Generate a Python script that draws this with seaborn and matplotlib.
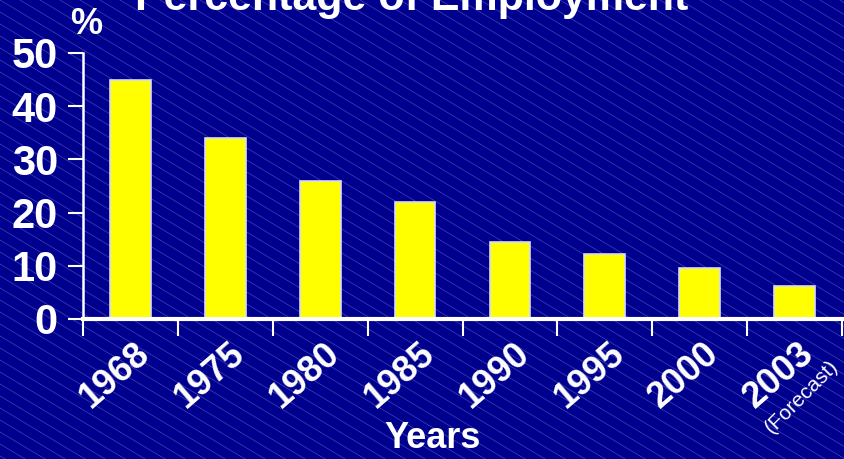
import numpy as np
import pandas as pd
import matplotlib
matplotlib.use("Agg")
import matplotlib.pyplot as plt
import matplotlib.transforms as mtransforms
import seaborn as sns

# Share of employment by year
years = ["1968", "1975", "1980", "1985", "1990", "1995", "2000", "2003"]
share = [45, 34, 26, 22, 14.5, 12.2, 9.6, 6.2]

sns.set_theme(style="white")
plt.rcParams["font.family"] = ["Liberation Sans", "DejaVu Sans"]

BG = "#00008e"
FG = "white"
BAR = "#ffff00"

W, H = 844, 459
fig = plt.figure(figsize=(W / 100, H / 100), dpi=100, facecolor=BG)

# diagonal pinstripe backdrop
bg = fig.add_axes([0, 0, 1, 1], zorder=-5)
bg.set_xlim(0, W)
bg.set_ylim(H, 0)
bg.axis("off")
slope = 0.6
for x0 in np.arange(-900, W + 20, 20):
    bg.plot([x0, x0 + 1200], [0, 1200 * slope], color="#6060cc", lw=0.5, alpha=0.7)

ax = fig.add_axes([83 / W, 1 - 319 / H, (842 - 83) / W, (319 - 53) / H])
ax.set_facecolor("none")

df = pd.DataFrame({"Year": years, "Share": share})
sns.barplot(data=df, x="Year", y="Share", color=BAR, width=0.43,
            edgecolor="#d8d8ff", linewidth=1.2, saturation=1, ax=ax, zorder=3)

ax.set_xlim(-0.5, len(years) - 0.5)
ax.set_ylim(0, 50)

for s in ("top", "right"):
    ax.spines[s].set_visible(False)
ax.spines["left"].set_color(FG)
ax.spines["left"].set_linewidth(1.8)
ax.spines["bottom"].set_color(FG)
ax.spines["bottom"].set_linewidth(3)
ax.spines["bottom"].set_zorder(4)

ax.set_yticks([0, 10, 20, 30, 40, 50])
ax.tick_params(axis="y", colors=FG, length=11, width=1.5, direction="out",
               left=True, pad=7, labelsize=30)
for lab in ax.get_yticklabels():
    lab.set_fontweight("bold")

# category boundaries carry the tick marks; labels are placed separately
ax.set_xticks(np.arange(-0.5, len(years)), minor=True)
ax.tick_params(axis="x", which="minor", colors=FG, length=12, width=1.5,
               direction="out", bottom=True)
ax.set_xticks(range(len(years)))
ax.set_xticklabels([])
ax.tick_params(axis="x", which="major", length=0)
ax.set_xlabel("")
ax.set_ylabel("")

base = ax.get_xaxis_transform()
for i, yr in enumerate(years):
    off = mtransforms.ScaledTranslation(15 / 100, -30 / 100, fig.dpi_scale_trans)
    ax.text(i, 0, yr, transform=base + off, rotation=41, rotation_mode="anchor",
            ha="right", va="center", color=FG, fontsize=26, fontweight="bold")

off = mtransforms.ScaledTranslation(41 / 100, -44 / 100, fig.dpi_scale_trans)
ax.text(len(years) - 1, 0, "(Forecast)", transform=base + off, rotation=45,
        rotation_mode="anchor", ha="right", va="center", color=FG, fontsize=15)

fig.text(433 / W, 1 - 438 / H, "Years", ha="center", va="center",
         color=FG, fontsize=26, fontweight="bold")
fig.text(86 / W, 1 - 24 / H, "%", ha="center", va="center",
         color=FG, fontsize=26, fontweight="bold")
fig.text(412 / W, 1 - 10 / H, "Percentage of Employment", ha="center",
         va="baseline", color=FG, fontsize=31, fontweight="bold")

fig.savefig("out.png", dpi=100, facecolor=BG)
